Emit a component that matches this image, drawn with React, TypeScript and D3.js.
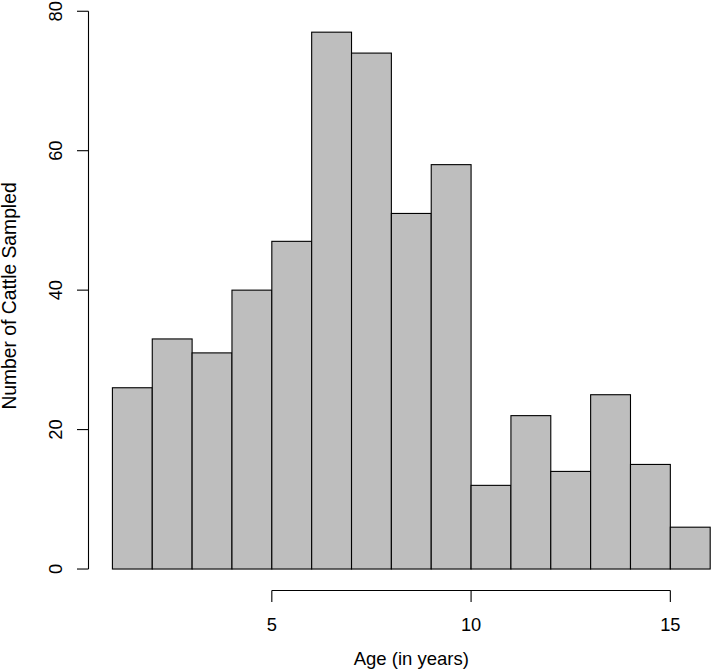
import React from "react";
import * as d3 from "d3";

const binStarts = [1, 2, 3, 4, 5, 6, 7, 8, 9, 10, 11, 12, 13, 14, 15];
const counts = [26, 33, 31, 40, 47, 77, 74, 51, 58, 12, 22, 14, 25, 15, 6];
const xTicks = [5, 10, 15];
const yTicks = [0, 20, 40, 60, 80];
const xTitle = "Age (in years)";
const yTitle = "Number of Cattle Sampled";

const W = 714;
const H = 672;

export default function App() {
  const x = d3.scaleLinear().domain([0.4, 16.6]).range([88.5, 734.1]);
  const y = d3.scaleLinear().domain([-3.08, 80.08]).range([590.5, 10.7]);
  const font = "'Liberation Sans', Arial, Helvetica, sans-serif";
  const axisY = 590.5;
  const axisX = 88.5;
  const tick = 11.5;
  return (
    <svg
      width={W}
      height={H}
      style={{ position: "absolute", left: 0, top: 0, background: "#fff" }}
      fontFamily={font}
    >
      {binStarts.map((b, i) => (
        <rect
          key={b}
          x={x(b)}
          y={y(counts[i])}
          width={x(b + 1) - x(b)}
          height={y(0) - y(counts[i])}
          fill="#bebebe"
          stroke="#000"
          strokeWidth={1.1}
        />
      ))}
      {/* x axis */}
      <line
        x1={x(xTicks[0])}
        x2={x(xTicks[xTicks.length - 1])}
        y1={axisY}
        y2={axisY}
        stroke="#000"
        strokeWidth={1.1}
      />
      {xTicks.map((t) => (
        <g key={t}>
          <line x1={x(t)} x2={x(t)} y1={axisY} y2={axisY + tick} stroke="#000" strokeWidth={1.1} />
          <text x={x(t)} y={631} textAnchor="middle" fontSize={18.3} fill="#000">
            {t}
          </text>
        </g>
      ))}
      {/* y axis */}
      <line
        x1={axisX}
        x2={axisX}
        y1={y(yTicks[0])}
        y2={y(yTicks[yTicks.length - 1])}
        stroke="#000"
        strokeWidth={1.1}
      />
      {yTicks.map((t) => (
        <g key={t}>
          <line x1={axisX - tick} x2={axisX} y1={y(t)} y2={y(t)} stroke="#000" strokeWidth={1.1} />
          <text
            transform={`translate(62,${y(t)}) rotate(-90)`}
            textAnchor="middle"
            fontSize={18.3}
            fill="#000"
          >
            {t}
          </text>
        </g>
      ))}
      <text x={(88.5 + 734.1) / 2} y={665} textAnchor="middle" fontSize={18.5} fill="#000">
        {xTitle}
      </text>
      <text
        transform={`translate(15.5,296) rotate(-90)`}
        textAnchor="middle"
        fontSize={19.3}
        fill="#000"
      >
        {yTitle}
      </text>
    </svg>
  );
}
